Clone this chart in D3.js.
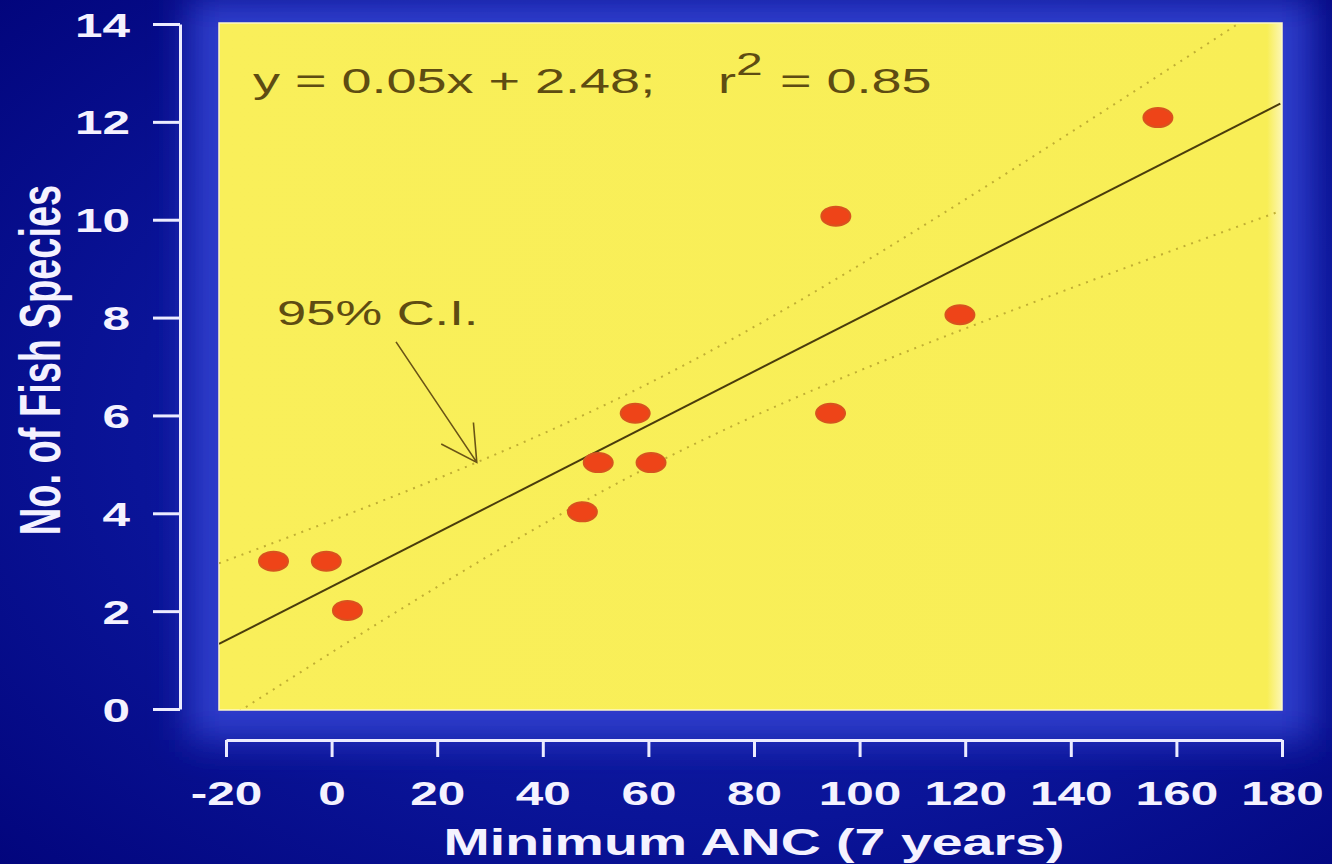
<!DOCTYPE html>
<html>
<head>
<meta charset="utf-8">
<script src="https://cdn.jsdelivr.net/npm/d3@7"></script>
<style>
  html, body { margin: 0; padding: 0; background: #03077f; }
  svg { display: block; }
  text { font-family: "Liberation Sans", Arial, Helvetica, sans-serif; }
</style>
</head>
<body>
<svg id="chart" width="1332" height="864"></svg>
<script>
// ---------------- data ----------------
const ancValues = [-11, -1, 3, 47.5, 50.5, 57.5, 60.5, 94.5, 95.5, 119, 156.5];
const speciesValues = [3, 3, 2, 4, 5, 6, 5, 6, 10, 8, 12];
const xTickValues = [-20, 0, 20, 40, 60, 80, 100, 120, 140, 160, 180];
const yTickValues = [0, 2, 4, 6, 8, 10, 12, 14];
const xTitle = "Minimum ANC (7 years)";
const yTitle = "No. of Fish Species";
const equationMain = "y = 0.05x + 2.48;";
const equationR = "r";
const equationSup = "2";
const equationRest = "= 0.85";
const ciLabel = "95% C.I.";
const tCrit = 2.262; // t(0.975, 9)

// ---------------- layout ----------------
const W = 1332, H = 864;
const panel = { left: 219, right: 1282, top: 23, bottom: 710 };
const x = d3.scaleLinear().domain([-20, 180]).range([226, 1282]);
const y = d3.scaleLinear().domain([0, 14]).range([709, 24]);      // axis scale
const yP = d3.scaleLinear().domain([0, 14]).range([709, 19]);     // panel (slide) scale
const SX = 1.5; // horizontal stretch of the slide

const svg = d3.select("#chart");
const defs = svg.append("defs");

// background
const bg = defs.append("radialGradient").attr("id", "bgGrad")
  .attr("cx", "55%").attr("cy", "50%").attr("r", "75%");
bg.append("stop").attr("offset", "0%").attr("stop-color", "#1626b0");
bg.append("stop").attr("offset", "60%").attr("stop-color", "#0a1498");
bg.append("stop").attr("offset", "100%").attr("stop-color", "#02057c");
svg.append("rect").attr("width", W).attr("height", H).attr("fill", "url(#bgGrad)");

const blur = defs.append("filter").attr("id", "glow")
  .attr("x", "-20%").attr("y", "-20%").attr("width", "140%").attr("height", "140%");
blur.append("feGaussianBlur").attr("stdDeviation", 18);
svg.append("rect")
  .attr("x", panel.left - 30).attr("y", panel.top - 25)
  .attr("width", panel.right - panel.left + 60).attr("height", panel.bottom - panel.top + 55)
  .attr("fill", "#2d3ccc").attr("filter", "url(#glow)");

// yellow panel
const yg = defs.append("linearGradient").attr("id", "panelGrad")
  .attr("x1", "0").attr("x2", "1").attr("y1", "0").attr("y2", "0");
yg.append("stop").attr("offset", "0%").attr("stop-color", "#f9ef5a");
yg.append("stop").attr("offset", "98.6%").attr("stop-color", "#f8ee56");
yg.append("stop").attr("offset", "100%").attr("stop-color", "#fcf6b4");
svg.append("rect")
  .attr("x", panel.left).attr("y", panel.top)
  .attr("width", panel.right - panel.left).attr("height", panel.bottom - panel.top)
  .attr("fill", "url(#panelGrad)")
  .attr("stroke", "#fdf8c8").attr("stroke-width", 1.5);

defs.append("clipPath").attr("id", "clip").append("rect")
  .attr("x", panel.left).attr("y", panel.top)
  .attr("width", panel.right - panel.left).attr("height", panel.bottom - panel.top);

// ---------------- regression & CI ----------------
const n = ancValues.length;
const mx = d3.mean(ancValues), my = d3.mean(speciesValues);
let sxx = 0, sxy = 0;
ancValues.forEach((v, i) => { sxx += (v - mx) ** 2; sxy += (v - mx) * (speciesValues[i] - my); });
const slope = sxy / sxx;
const intercept = my - slope * mx;
let ssr = 0;
ancValues.forEach((v, i) => { ssr += (speciesValues[i] - (intercept + slope * v)) ** 2; });
const s = Math.sqrt(ssr / (n - 2));
const fit = v => intercept + slope * v;
const half = v => tCrit * s * Math.sqrt(1 / n + (v - mx) ** 2 / sxx);

const xs = d3.range(x.invert(panel.left), x.invert(panel.right) + 0.5, 1);
const line = d3.line().x(d => x(d[0])).y(d => yP(d[1]));
const plotG = svg.append("g").attr("clip-path", "url(#clip)");

plotG.append("path")
  .attr("d", line(xs.map(v => [v, fit(v) + half(v)])))
  .attr("fill", "none").attr("stroke", "#c0ae34").attr("stroke-width", 2)
  .attr("stroke-dasharray", "2,6");
plotG.append("path")
  .attr("d", line(xs.map(v => [v, fit(v) - half(v)])))
  .attr("fill", "none").attr("stroke", "#c0ae34").attr("stroke-width", 2)
  .attr("stroke-dasharray", "2,6");
plotG.append("path")
  .attr("d", line([[xs[0], fit(xs[0])], [xs[xs.length - 1], fit(xs[xs.length - 1])]]))
  .attr("fill", "none").attr("stroke", "#4a3c0c").attr("stroke-width", 2);

// points
plotG.selectAll("ellipse.pt").data(ancValues.map((v, i) => [v, speciesValues[i]]))
  .join("ellipse").attr("class", "pt")
  .attr("cx", d => x(d[0])).attr("cy", d => yP(d[1]))
  .attr("rx", 14.5).attr("ry", 9.5)
  .attr("fill", "#ee4418").attr("stroke", "#d8521e").attr("stroke-width", 2);

// ---------------- annotations ----------------
const textColor = "#5e4c12";
function stretchedText(g, str, px, py, size, weight, anchor, color) {
  return g.append("text")
    .attr("transform", `translate(${px},${py}) scale(${SX},1)`)
    .attr("text-anchor", anchor).attr("font-size", size).attr("font-weight", weight)
    .attr("fill", color).text(str);
}
stretchedText(svg, equationMain, 253, 93, 36, "normal", "start", textColor);
stretchedText(svg, equationR, 718, 93, 36, "normal", "start", textColor);
stretchedText(svg, equationSup, 736, 75, 32, "normal", "start", textColor);
stretchedText(svg, equationRest, 780, 93, 36, "normal", "start", textColor);
stretchedText(svg, ciLabel, 277, 325, 35, "normal", "start", textColor);

// arrow from label to the upper CI band
const tipX = 27.5;
const tip = [x(tipX), yP(fit(tipX) + half(tipX))];
const tail = [x(12.2), yP(7.45)];
const ang = Math.atan2(tip[1] - tail[1], tip[0] - tail[0]);
const headLen = 40, spread = 29 * Math.PI / 180;
const h1 = [tip[0] - headLen * Math.cos(ang - spread), tip[1] - headLen * Math.sin(ang - spread)];
const h2 = [tip[0] - headLen * Math.cos(ang + spread), tip[1] - headLen * Math.sin(ang + spread)];
svg.append("path")
  .attr("d", `M${tail}L${tip}M${h1}L${tip}L${h2}`)
  .attr("fill", "none").attr("stroke", "#6a5416").attr("stroke-width", 1.6);

// ---------------- axes ----------------
const axisColor = "#ececff";
const yAxis = svg.append("g").attr("transform", "translate(180,0)")
  .call(d3.axisLeft(y).tickValues(yTickValues).tickSize(27).tickSizeOuter(0).tickFormat(d3.format("d")));
const xAxis = svg.append("g").attr("transform", "translate(0,740)")
  .call(d3.axisBottom(x).tickValues(xTickValues).tickSize(17).tickSizeOuter(0).tickFormat(d3.format("d")));

[yAxis, xAxis].forEach(a => {
  a.select(".domain").attr("stroke", axisColor).attr("stroke-width", 3);
  a.selectAll(".tick line").attr("stroke", axisColor).attr("stroke-width", 3);
  a.selectAll(".tick text").attr("fill", "#f4f2ff").attr("font-size", 33)
    .attr("font-weight", "bold").attr("x", null).attr("y", null).attr("dy", null);
});
yAxis.selectAll(".tick text").attr("text-anchor", "end")
  .attr("transform", `translate(-50,12) scale(${SX},1)`);
xAxis.selectAll(".tick text").attr("text-anchor", "middle")
  .attr("transform", `translate(0,65) scale(${SX},1)`)
  .text(d => d < 0 ? "-" + Math.abs(d) : d);

// axis titles
stretchedText(svg, xTitle, (x.range()[0] + x.range()[1]) / 2, 855, 37, "bold", "middle", "#f4f2ff");
svg.append("text")
  .attr("transform", `translate(60,360) scale(${SX},1) rotate(-90)`)
  .attr("text-anchor", "middle").attr("font-size", 38).attr("font-weight", "bold")
  .attr("fill", "#f4f2ff").text(yTitle);
</script>
</body>
</html>
